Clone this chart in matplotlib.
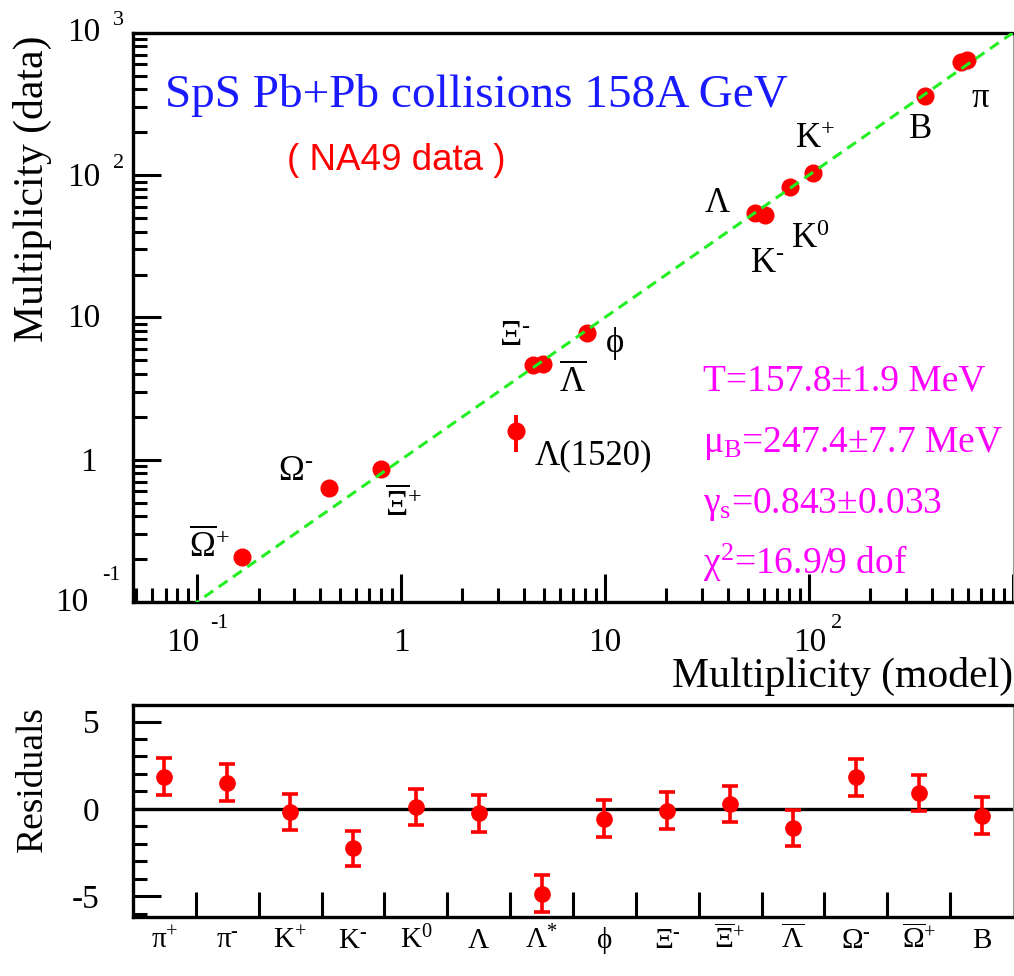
import matplotlib
matplotlib.use("Agg")
import matplotlib.pyplot as plt

plt.rcParams["font.family"] = ["Liberation Serif", "DejaVu Serif"]
plt.rcParams["mathtext.fontset"] = "custom"
plt.rcParams["mathtext.rm"] = "Liberation Serif"
plt.rcParams["mathtext.it"] = "Liberation Serif:italic"
plt.rcParams["mathtext.bf"] = "Liberation Serif:bold"
plt.rcParams["axes.unicode_minus"] = False

# 粒子名称（残差图横轴）
particles = [r"$\mathrm{\pi}^{+}$", r"$\mathrm{\pi}^{\text{-}}$", r"$\mathrm{K}^{+}$",
             r"$\mathrm{K}^{\text{-}}$", r"$\mathrm{K}^{0}$", r"$\Lambda$", r"$\Lambda^{*}$",
             "ϕ", r"$\Xi^{\text{-}}$", r"$\overline{\Xi}^{+}$", r"$\overline{\Lambda}$",
             r"$\Omega^{\text{-}}$", r"$\overline{\Omega}^{+}$", "B"]

# 多重数：模型 vs 数据
mult_model = [553, 598, 104.7, 60.7, 80.9, 54.1, 3.64, 8.15, 4.43, 0.799, 4.98, 0.441, 0.166, 370]
mult_data = [625, 643, 103.8, 52.4, 82.0, 53.8, 1.60, 7.72, 4.62, 0.855, 4.70, 0.635, 0.208, 361]
mult_err = [30, 30, 5, 2.5, 4, 4, 0.47, 0.5, 0.3, 0.08, 0.3, 0.09, 0.02, 12]

# 残差
residuals = [1.85, 1.50, -0.19, -2.25, 0.10, -0.25, -4.86, -0.57, -0.11, 0.27, -1.10, 1.81, 0.90, -0.40]
residual_err = [1.05, 1.05, 1.05, 1.0, 1.05, 1.05, 1.05, 1.05, 1.05, 1.05, 1.05, 1.05, 1.05, 1.05]

# 上图中数据点旁的标注
point_labels = [r"$\mathrm{\pi}$", "B", r"$\mathrm{K}^{+}$", r"$\Lambda$", r"$\mathrm{K}^{0}$",
                r"$\mathrm{K}^{\text{-}}$", r"$\Xi^{\text{-}}$", r"$\overline{\Lambda}$", "ϕ",
                "Λ(1520)", r"$\overline{\Xi}^{+}$", r"$\Omega^{\text{-}}$",
                r"$\overline{\Omega}^{+}$"]
label_anchor = [1, 13, 2, 5, 4, 3, 8, 10, 7, 6, 9, 11, 12]
label_offset = [(13, 47), (-4, 42), (2, -25), (-37, -1), (20, 61), (2, 57), (-18, -20),
                (29, 27), (28, 19), (19, 34), (22, 46), (-33, -8), (-33, 0)]

fit_results = ["T=157.8±1.9 MeV", r"$\mathrm{\mu_{B}}$=247.4±7.7 MeV",
               r"$\mathrm{\gamma_{s}}$=0.843±0.033", r"$\mathrm{\chi^{2}}$=16.9/9 dof"]

x_lim = [0.0485, 1000]
y_lim = [0.1, 1000]

RED = "#ff0000"
W, H = 1014, 976

fig = plt.figure(figsize=(W / 100, H / 100), dpi=100)
ax = fig.add_axes([133 / W, 1 - 602 / H, 880 / W, 569.3 / H])
ax_r = fig.add_axes([133 / W, 1 - 917 / H, 880 / W, 212 / H])


def style_frame(a):
    for side in ("left", "bottom", "top"):
        a.spines[side].set_linewidth(2.4)
    a.spines["right"].set_linewidth(0.8)
    a.spines["right"].set_color("#999999")
    a.tick_params(which="both", direction="in", top=False, right=False, width=2.2)
    a.tick_params(which="major", length=20)
    a.tick_params(which="minor", length=10)


# ---- 上图：数据 vs 模型 ----
ax.set_xscale("log")
ax.set_yscale("log")
ax.set_xlim(x_lim)
ax.set_ylim(y_lim)
style_frame(ax)
ax.tick_params(labelleft=False, labelbottom=False)

ax.plot(x_lim, x_lim, color="#22ee22", lw=2.2, dashes=(3.5, 2.2), zorder=3)
ax.errorbar(mult_model, mult_data, yerr=mult_err, fmt="o", color=RED, ms=12,
            elinewidth=2.8, capsize=0, zorder=2)

for text, idx, (dx, dy) in zip(point_labels, label_anchor, label_offset):
    ha = "left" if text.startswith("Λ(") else "center"
    ax.annotate(text, xy=(mult_model[idx], mult_data[idx]), xytext=(dx, -dy),
                textcoords="offset pixels", ha=ha, va="baseline", fontsize=25)


def power_label(a, xy, trans, base, exp, base_off, exp_off, base_ha):
    a.annotate(base, xy=xy, xycoords=trans, xytext=base_off, textcoords="offset pixels",
               ha=base_ha, va="center", fontsize=24, annotation_clip=False)
    if exp:
        a.annotate(exp, xy=xy, xycoords=trans, xytext=exp_off, textcoords="offset pixels",
                   ha="left", va="center", fontsize=16, annotation_clip=False)


# 纵轴刻度标签 (ROOT 风格的 10 和指数)
y_ticks = [1000, 100, 10, 1, 0.1]
y_base = ["10", "10", "10", "1", "10"]
y_exp = ["3", "2", "", "", "-1"]
y_base_off = [(-33, 0), (-33, -3), (-33, -1), (-36, -3), (-45, -1)]
y_exp_off = [(-20, 12), (-20, 12), (0, 0), (0, 0), (-31, 27)]
for v, b, e, bo, eo in zip(y_ticks, y_base, y_exp, y_base_off, y_exp_off):
    power_label(ax, (0, v), ax.get_yaxis_transform(), b, e, bo, eo, "right")

# 横轴刻度标签
x_ticks = [0.1, 1, 10, 100]
x_base = ["10", "1", "10", "10"]
x_exp = ["-1", "", "", "2"]
x_base_off = [(-14, -41), (0, -41), (0, -41), (1, -41)]
x_exp_off = [(13, -21), (0, 0), (0, 0), (22, -21)]
for v, b, e, bo, eo in zip(x_ticks, x_base, x_exp, x_base_off, x_exp_off):
    power_label(ax, (v, 0), ax.get_xaxis_transform(), b, e, bo, eo, "center")

ax.text(-0.114, 0.726, "Multiplicity (data)", transform=ax.transAxes, rotation=90,
        ha="center", va="center", fontsize=30)
ax.text(1.0, -0.149, "Multiplicity (model)", transform=ax.transAxes,
        ha="right", va="baseline", fontsize=30)

ax.text(0.0364, 0.870, "SpS Pb+Pb collisions 158A GeV", transform=ax.transAxes,
        color="#1a1aff", fontsize=34, va="baseline")
ax.text(0.175, 0.759, "( NA49 data )", transform=ax.transAxes, color=RED,
        fontsize=26.5, va="baseline", family="Liberation Sans")

for i, line in enumerate(fit_results):
    ax.text(0.6477, 0.371 - i * 0.107, line, transform=ax.transAxes,
            color="#ff00ff", fontsize=27, va="baseline")

# ---- 下图：残差 ----
pos = list(range(len(particles)))
ax_r.set_xlim(-0.5, len(particles) - 0.5)
ax_r.set_ylim(-6.2, 5.95)
style_frame(ax_r)
ax_r.axhline(0, color="black", lw=2.4, zorder=1)
ax_r.errorbar(pos, residuals, yerr=residual_err, fmt="o", color=RED, ms=11,
              elinewidth=2.6, capsize=6, capthick=2.6, zorder=3)

ax_r.set_yticks([-5, 0, 5])
ax_r.set_yticks(range(-6, 6), minor=True)
ax_r.tick_params(axis="y", labelsize=24, pad=24)
ax_r.set_xticks(pos, labels=[])
ax_r.set_xticks([p + 0.5 for p in pos[:-1]], minor=True)
ax_r.tick_params(axis="x", which="major", length=0)
ax_r.tick_params(axis="x", which="minor", length=18)

for p, name in zip(pos, particles):
    ax_r.text(p, -0.146, name, transform=ax_r.get_xaxis_transform(), ha="center",
              va="baseline", fontsize=21)

ax_r.text(-0.114, 0.651, "Residuals", transform=ax_r.transAxes, rotation=90,
          ha="center", va="center", fontsize=27)

fig.savefig("out.png", dpi=100)
